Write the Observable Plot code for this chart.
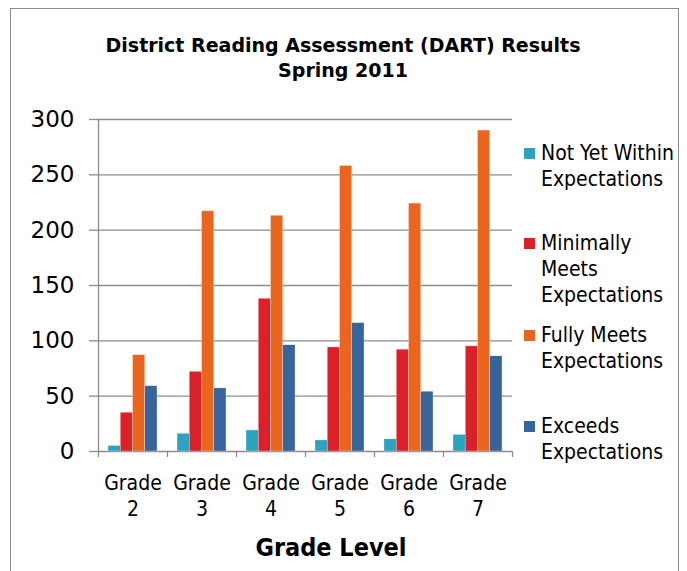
<!DOCTYPE html>
<html>
<head>
<meta charset="utf-8">
<script src="https://cdn.jsdelivr.net/npm/d3@7"></script>
<script src="https://cdn.jsdelivr.net/npm/@observablehq/plot@0.6"></script>
<style>
  body { margin: 0; background: #fff; }
  #wrap { position: relative; width: 687px; height: 571px; overflow: hidden; font-family: "DejaVu Sans Condensed", "DejaVu Sans", sans-serif; color: #000; }
  #border { position: absolute; left: 10px; top: 8px; width: 669px; height: 620px; border: 1px solid #8c8c8c; box-sizing: border-box; }
  #title { position: absolute; left: 10px; width: 666px; top: 33px; text-align: center; font-family: "DejaVu Sans", sans-serif; font-weight: bold; font-size: 19px; line-height: 25px; }
  #chart { position: absolute; left: 0; top: 0; }
  #xlabel { position: absolute; left: 231px; width: 200px; top: 533px; text-align: center; font-weight: bold; font-size: 25px; line-height: 30px; }
  .lg { position: absolute; left: 524px; font-size: 21px; line-height: 26px; }
  .lg .sw { position: absolute; left: 0; top: 8px; width: 11px; height: 11px; }
  .lg .tx { margin-left: 17px; }
</style>
</head>
<body>
<div id="wrap">
  <div id="border"></div>
  <div id="title">District Reading Assessment (DART) Results<br>Spring 2011</div>
  <div id="chart"></div>
  <div id="xlabel">Grade Level</div>
  <div id="legend"></div>
</div>
<script>
const grades = ["2", "3", "4", "5", "6", "7"];
const seriesNames = ["Not Yet Within Expectations", "Minimally Meets Expectations", "Fully Meets Expectations", "Exceeds Expectations"];
const legendLines = [["Not Yet Within", "Expectations"], ["Minimally", "Meets", "Expectations"], ["Fully Meets", "Expectations"], ["Exceeds", "Expectations"]];
const colors = ["#2ca3c0", "#dc202a", "#ea661e", "#38649e"];
const notYet = [5, 16, 19, 10, 11, 15];
const minimally = [35, 72, 138, 94, 92, 95];
const fully = [87, 217, 213, 258, 224, 290];
const exceeds = [59, 57, 96, 116, 54, 86];
const yTicks = [0, 50, 100, 150, 200, 250, 300];

const seriesValues = [notYet, minimally, fully, exceeds];
// Grouped layout in "grade slot" units: each grade occupies one unit on x
const groupPad = 0.145, barW = 0.1775;
const rows = [];
grades.forEach((g, i) => {
  seriesValues.forEach((vals, j) => {
    const x1 = i + groupPad + j * barW;
    rows.push({grade: g, series: seriesNames[j], value: vals[i], x1, x2: x1 + barW});
  });
});
const edges = d3.range(grades.length + 1);
const centers = grades.map((g, i) => ({label: "Grade\n" + g, x: i + 0.5}));

const gray = "#8c8c8c";
const chart = Plot.plot({
  width: 520,
  height: 571,
  marginTop: 119,
  marginBottom: 120,
  marginLeft: 98,
  marginRight: 8,
  style: {fontFamily: "'DejaVu Sans Condensed', 'DejaVu Sans', sans-serif", background: "transparent", overflow: "visible"},
  x: {domain: [0, grades.length], axis: null},
  y: {domain: [0, 300], axis: null},
  color: {domain: seriesNames, range: colors},
  marks: [
    Plot.ruleY(yTicks, {stroke: gray, strokeWidth: 1.3, strokeOpacity: 1}),
    Plot.axisY({ticks: yTicks, tickSize: 9, tickPadding: 15, fontSize: 23, fontFamily: "DejaVu Sans", stroke: gray, strokeWidth: 1.3, strokeOpacity: 1, fill: "#000", label: null}),
    Plot.ruleX([0], {stroke: gray, strokeWidth: 1.3}),
    Plot.axisX({ticks: edges, tickSize: 6, tickFormat: () => "", stroke: gray, strokeWidth: 1.3, strokeOpacity: 1, label: null}),
    Plot.rectY(rows, {x1: "x1", x2: "x2", y1: 0, y2: "value", fill: "series", stroke: "#fff", strokeWidth: 0.4, strokeOpacity: 0.7}),
    Plot.text(centers, {x: "x", y: 0, text: "label", dy: 20, lineAnchor: "top", lineHeight: 1.24, fontSize: 21, fill: "#000"})
  ]
});
document.getElementById("chart").appendChild(chart);

const legend = document.getElementById("legend");
const tops = [140, 230, 322, 413];
legendLines.forEach((lines, j) => {
  const d = document.createElement("div");
  d.className = "lg";
  d.style.top = tops[j] + "px";
  d.innerHTML = `<div class="sw" style="background:${colors[j]}"></div><div class="tx">${lines.join("<br>")}</div>`;
  legend.appendChild(d);
});
</script>
</body>
</html>
